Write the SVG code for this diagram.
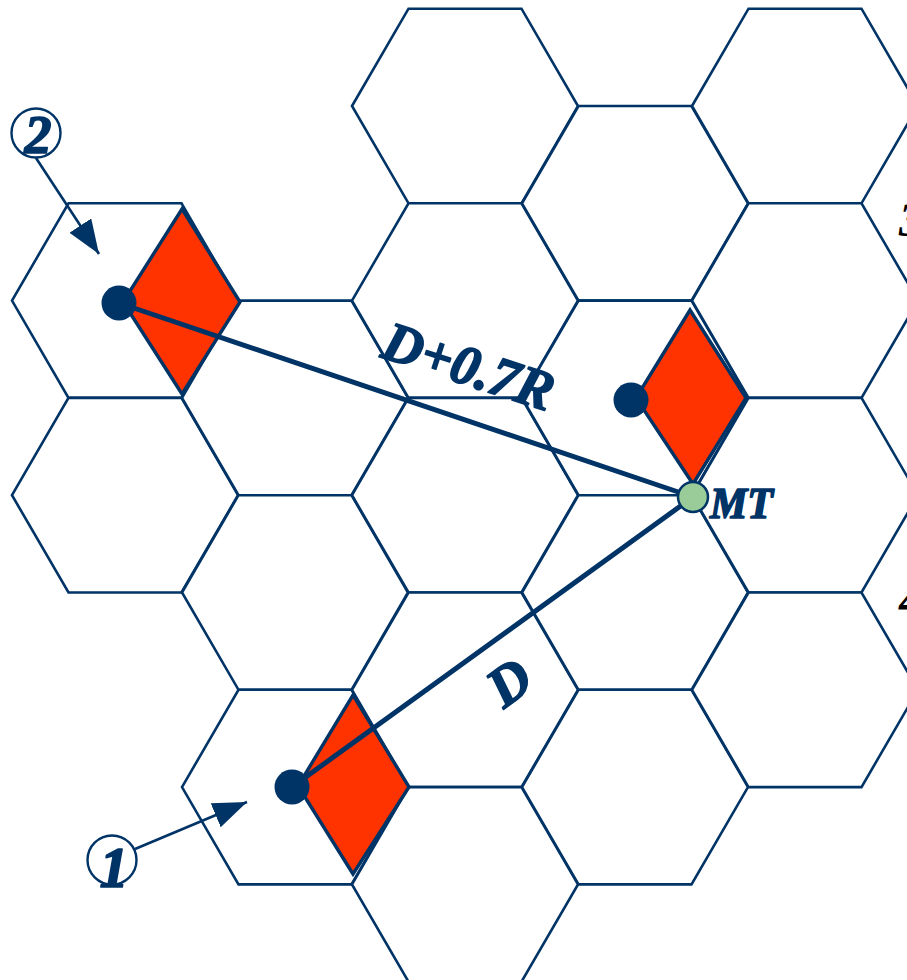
<svg xmlns="http://www.w3.org/2000/svg" xmlns:xlink="http://www.w3.org/1999/xlink" width="907" height="980" viewBox="0 0 907 980">
<style>
.cell{fill:#ffffff;stroke:#003366;stroke-width:2.6;stroke-linejoin:miter}
.sector{fill:#ff3300;stroke:#003366;stroke-width:3.4;stroke-linejoin:miter}
.bs{fill:#003366}
.link{stroke:#003366;stroke-width:5;stroke-linecap:round;fill:none}
.ptr{stroke:#003366;stroke-width:2.6;fill:none}
.tag{fill:#ffffff;stroke:#003366;stroke-width:2.4}
.lbl{font-family:"Liberation Serif","DejaVu Serif",serif;font-weight:bold;font-style:italic;fill:#003366;stroke:#003366;stroke-width:1.6;stroke-linejoin:round}
.frag{font-family:"Liberation Serif","DejaVu Serif",serif;font-weight:bold;font-style:italic;fill:#000000}
</style>
<defs>
<polygon id="hex" points="-113,0 -56.5,-97.3 56.5,-97.3 113,0 56.5,97.3 -56.5,97.3"/>
<marker id="ah" markerUnits="userSpaceOnUse" markerWidth="36" markerHeight="30" refX="34" refY="13" orient="auto">
<path d="M0,0 L34,13 L0,26 z" fill="#003366"/>
</marker>
</defs>
<rect width="907" height="980" fill="#ffffff"/>
<g id="cells">
<g id="cell-a1"><use xlink:href="#hex" href="#hex" class="cell" x="125" y="300.6"/></g>
<g id="cell-a2"><use xlink:href="#hex" href="#hex" class="cell" x="125" y="495.2"/></g>
<g id="cell-b1"><use xlink:href="#hex" href="#hex" class="cell" x="295" y="397.9"/></g>
<g id="cell-b2"><use xlink:href="#hex" href="#hex" class="cell" x="295" y="592.5"/></g>
<g id="cell-b3"><use xlink:href="#hex" href="#hex" class="cell" x="295" y="787.1"/></g>
<g id="cell-c0"><use xlink:href="#hex" href="#hex" class="cell" x="465" y="106"/></g>
<g id="cell-c1"><use xlink:href="#hex" href="#hex" class="cell" x="465" y="300.6"/></g>
<g id="cell-c2"><use xlink:href="#hex" href="#hex" class="cell" x="465" y="495.2"/></g>
<g id="cell-c3"><use xlink:href="#hex" href="#hex" class="cell" x="465" y="689.8"/></g>
<g id="cell-c4"><use xlink:href="#hex" href="#hex" class="cell" x="465" y="884.4"/></g>
<g id="cell-d0"><use xlink:href="#hex" href="#hex" class="cell" x="635" y="203.3"/></g>
<g id="cell-d1"><use xlink:href="#hex" href="#hex" class="cell" x="635" y="397.9"/></g>
<g id="cell-d2"><use xlink:href="#hex" href="#hex" class="cell" x="635" y="592.5"/></g>
<g id="cell-d3"><use xlink:href="#hex" href="#hex" class="cell" x="635" y="787.1"/></g>
<g id="cell-e0"><use xlink:href="#hex" href="#hex" class="cell" x="805" y="106"/></g>
<g id="cell-e1"><use xlink:href="#hex" href="#hex" class="cell" x="805" y="300.6"/></g>
<g id="cell-e2"><use xlink:href="#hex" href="#hex" class="cell" x="805" y="495.2"/></g>
<g id="cell-e3"><use xlink:href="#hex" href="#hex" class="cell" x="805" y="689.8"/></g>
</g>
<g id="sectors">
<g id="sector-2"><polygon class="sector" points="182,209 240,302 182,394 123,302"/></g>
<g id="sector-0"><polygon class="sector" points="690,310 746,398 693,484 636,398"/></g>
<g id="sector-1"><polygon class="sector" points="353,695 409,787 353,874 298,786"/></g>
</g>
<g id="connectors">
<line class="link" x1="119" y1="303" x2="693" y2="497"/>
<line class="link" x1="292" y1="787" x2="693" y2="497"/>
<line class="ptr" x1="36" y1="158" x2="99" y2="254" marker-end="url(#ah)"/>
<line class="ptr" x1="135" y1="849" x2="247" y2="802" marker-end="url(#ah)"/>
</g>
<g id="bs-2"><circle class="bs" cx="119" cy="303" r="17.5"/></g>
<g id="bs-0"><circle class="bs" cx="631" cy="400" r="17.5"/></g>
<g id="bs-1"><circle class="bs" cx="292" cy="787" r="17.5"/></g>
<g id="mt">
<circle cx="693" cy="497" r="15" fill="#99cc99" stroke="#003366" stroke-width="2.5"/>
<text class="lbl" x="710" y="518" font-size="44" textLength="63" lengthAdjust="spacingAndGlyphs">MT</text>
</g>
<g id="tag-2">
<circle class="tag" cx="36" cy="133" r="24.5"/>
<text class="lbl" x="38" y="153" font-size="54" text-anchor="middle">2</text>
</g>
<g id="tag-1">
<circle class="tag" cx="112" cy="860" r="24.5"/>
<text class="lbl" x="114" y="887" font-size="58" text-anchor="middle">1</text>
</g>
<g id="labels">
<text class="lbl" transform="translate(463,384) rotate(18)" x="0" y="0" font-size="56" text-anchor="middle" textLength="176" lengthAdjust="spacingAndGlyphs">D+0.7R</text>
<text class="lbl" transform="translate(509,682) rotate(-36)" x="0" y="19" font-size="56" text-anchor="middle">D</text>
<text class="frag" x="899" y="236" font-size="48">3</text>
<text class="frag" x="899" y="616" font-size="48">4</text>
</g>
</svg>
